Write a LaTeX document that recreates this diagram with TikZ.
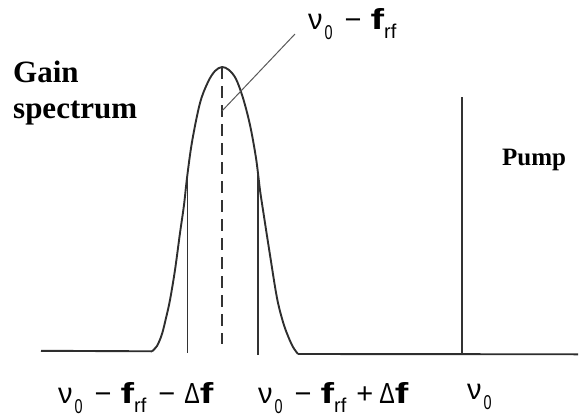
\documentclass[tikz,border=0pt]{standalone}
\usepackage{fontspec}
\usepackage{graphicx}
\setmainfont{Liberation Serif}
\newfontfamily\labfont{Liberation Sans}
\newcommand\subz{\raisebox{-10pt}{\fontsize{20}{20}\selectfont\scalebox{0.72}[1]{0}}}
\newcommand\nuz{ν\hspace{2pt}\subz}
\newcommand\ff{\scalebox{1.4}[1]{\textbf{f}}}
\newcommand\frf{\ff\raisebox{-9pt}{\fontsize{20}{20}\selectfont rf}}
\newcommand\mn{\hspace{12pt}−\hspace{9pt}}
\newcommand\pl{\hspace{10pt}+\hspace{6pt}}
\newcommand\df{\scalebox{0.8}[1]{Δ}\ff}
\begin{document}
\begin{tikzpicture}[x=1pt,y=-1pt,
  ink/.style={draw=black!82, line width=1.9pt, line join=round},
  marker/.style={draw=black!80, line width=1.5pt},
  centre/.style={draw=black!80, line width=1.5pt, dash pattern=on 12pt off 7pt},
  leader/.style={draw=black!65, line width=1pt},
  lab/.style={anchor=base west, inner sep=0pt, font=\labfont\fontsize{29}{29}\selectfont},
  title/.style={inner sep=0pt, font=\bfseries\fontsize{31}{36}\selectfont}]
\useasboundingbox (0,0) rectangle (579,418);
% baseline
\coordinate (bl0) at (41,350.8);
\coordinate (bl1) at (152,351.3);
\coordinate (br0) at (298,354);
\coordinate (br1) at (578,354.3);
\draw[ink] (bl0) -- (bl1);
\draw[ink] (br0) -- (br1);
% gain curve
\draw[ink] plot[smooth, tension=0.55] coordinates {
 (152,351.3) (157,346) (162,334) (166,318) (170,300) (175,270) (180,233)
 (184,205) (187,178) (192,142) (200,103) (208,82) (215,71) (222,67)
 (229,70) (236,79) (243,98) (250,125) (256,158) (260,190) (263,210)
 (270,255) (277,298) (283,322) (288,336) (293,347) (298,354)};
% markers
\coordinate (peak) at (222,67);
\coordinate (cbot) at (222,344);
\coordinate (lt) at (187.5,176);
\coordinate (lb) at (187.5,353);
\coordinate (rt) at (258,174);
\coordinate (rb) at (258,355);
\coordinate (pt) at (462,97);
\coordinate (pb) at (462,354.2);
\draw[marker] (lt) -- (lb);
\draw[marker] (rt) -- (rb);
\draw[centre] (peak) -- (cbot);
\draw[marker] (pt) -- (pb);
% leader
\coordinate (ls) at (222,111);
\coordinate (le) at (295,34);
\draw[leader] (ls) -- (le);
% texts
\node[title, anchor=base west, align=left] (gain) at (13,118) {Gain\\spectrum};
\node[inner sep=0pt, anchor=base west, font=\bfseries\fontsize{25}{25}\selectfont] (pump) at (502,165) {Pump};
\node[lab] (top) at (308,29) {\nuz\mn\frf};
\node[lab] (l1) at (58,403) {\nuz\mn\frf\mn\df};
\node[lab] (l2) at (258,403) {\nuz\mn\frf\pl\df};
\node[lab] (l3) at (467,399) {\nuz};
\end{tikzpicture}
\end{document}
